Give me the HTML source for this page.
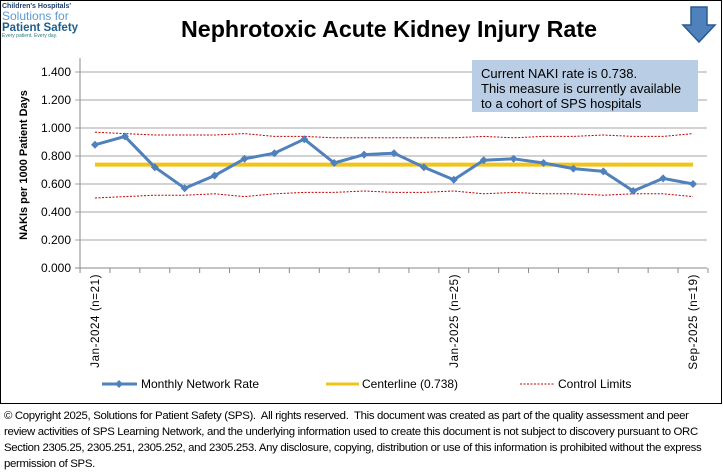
<!DOCTYPE html>
<html><head><meta charset="utf-8"><style>
body{margin:0;width:723px;height:472px;background:#fff;font-family:"Liberation Sans",sans-serif;overflow:hidden;position:relative}
.foot{position:absolute;left:4px;top:408px;width:718px;font-size:11.4px;line-height:16px;color:#000;letter-spacing:-0.33px;white-space:nowrap}
.foot span{display:block}
</style></head><body>
<svg id="chart" width="723" height="405" style="position:absolute;left:0;top:0">
<rect x="0.5" y="0.5" width="721" height="403" fill="#fff" stroke="#000"/>
<g font-family="Liberation Sans,sans-serif">
<text x="2" y="8" font-size="7" font-weight="bold" fill="#1d3f6e">Children's Hospitals'</text>
<text x="2" y="20" font-size="12" fill="#5b9bd5">Solutions for</text>
<text x="2" y="31" font-size="11.5" font-weight="bold" fill="#1d5f8a">Patient Safety</text>
<text x="2" y="37" font-size="5" fill="#2a7d7d">Every patient. Every day.</text>
</g>
<text x="389" y="37" text-anchor="middle" font-size="23" font-weight="bold" fill="#000" textLength="416" lengthAdjust="spacingAndGlyphs">Nephrotoxic Acute Kidney Injury Rate</text>
<polygon points="691,7 707,7 707,25 715,25 699,42 683,25 691,25" fill="#4f81bd" stroke="#2c5a8f" stroke-width="1.5"/>
<g id="grid"></g>
<g id="series"></g>
<rect x="472" y="60" width="226" height="52" fill="#b9cde5"/>
<g font-size="13" fill="#000">
<text x="481" y="78">Current NAKI rate is 0.738.</text>
<text x="481" y="93">This measure is currently available</text>
<text x="481" y="108">to a cohort of SPS hospitals</text>
</g>
<text transform="translate(27,165) rotate(-90)" text-anchor="middle" font-size="11" font-weight="bold">NAKIs per 1000 Patient Days</text>
<g font-size="12">
<g><line x1="102" y1="384" x2="137" y2="384" stroke="#4f81bd" stroke-width="3"/><polygon points="119,380 123,384 119,388 115,384" fill="#4f81bd"/><text x="141" y="388">Monthly Network Rate</text></g>
<g><line x1="326" y1="384" x2="359" y2="384" stroke="#f0c419" stroke-width="3"/><text x="362" y="388">Centerline (0.738)</text></g>
<g><line x1="520" y1="384" x2="554" y2="384" stroke="#c00000" stroke-width="1" stroke-dasharray="2,1.5"/><text x="558" y="388">Control Limits</text></g>
</g>
</svg>
<div class="foot"><span>© Copyright 2025, Solutions for Patient Safety (SPS).&nbsp; All rights reserved.&nbsp; This document was created as part of the quality assessment and peer</span><span>review activities of SPS Learning Network, and the underlying information used to create this document is not subject to discovery pursuant to ORC</span><span>Section 2305.25, 2305.251, 2305.252, and 2305.253. Any disclosure, copying, distribution or use of this information is prohibited without the express</span><span>permission of SPS.</span></div>
<script>
const months=["Jan-2024 (n=21)","Feb-2024","Mar-2024","Apr-2024","May-2024","Jun-2024","Jul-2024","Aug-2024","Sep-2024","Oct-2024","Nov-2024","Dec-2024","Jan-2025 (n=25)","Feb-2025","Mar-2025","Apr-2025","May-2025","Jun-2025","Jul-2025","Aug-2025","Sep-2025 (n=19)"];
const shownLabels=[0,12,20];
const rate=[0.88,0.94,0.72,0.57,0.66,0.78,0.82,0.92,0.75,0.81,0.82,0.72,0.63,0.77,0.78,0.75,0.71,0.69,0.55,0.64,0.60];
const ucl=[0.97,0.96,0.95,0.95,0.95,0.96,0.94,0.94,0.93,0.93,0.93,0.93,0.93,0.94,0.93,0.94,0.94,0.95,0.94,0.94,0.96];
const lcl=[0.50,0.51,0.52,0.52,0.53,0.51,0.53,0.54,0.54,0.55,0.54,0.54,0.55,0.53,0.54,0.53,0.53,0.52,0.53,0.53,0.51];
const centerline=0.738;
const yTicks=[0,0.2,0.4,0.6,0.8,1.0,1.2,1.4];
const NS="http://www.w3.org/2000/svg";
const L=80,R=707,T=58,B=268,yMax=1.5;
const xs=i=>95+i*(693-95)/(months.length-1);
const ys=v=>B-v/yMax*(B-T);
function mk(tag,at,parent){const e=document.createElementNS(NS,tag);for(const k in at)e.setAttribute(k,at[k]);parent.appendChild(e);return e;}
const grid=document.getElementById('grid'),ser=document.getElementById('series');
yTicks.forEach(v=>{
 const g=mk('line',{x1:L-5,x2:R,y1:ys(v),y2:ys(v),stroke:v===0?'#888':'#a6a6a6','stroke-width':1},grid);
 
 
 const t=mk('text',{x:L-9,y:ys(v)+4,'text-anchor':'end','font-size':12},grid);
 t.textContent=v.toFixed(3);
 
 
});
const ax=mk('line',{x1:L,x2:L,y1:T,y2:B,stroke:'#888'},grid);


for(let i=0;i<=months.length;i++){
 const x=xs(i)-(693-95)/(months.length-1)/2;
 const tk=mk('line',{x1:x,x2:x,y1:B,y2:B+5,stroke:'#888'},grid);
 
 
}
shownLabels.forEach(i=>{
 const t=mk('text',{transform:`translate(${xs(i)+4},${B+6}) rotate(-90)`,'text-anchor':'end','font-size':11.5,'letter-spacing':'0.6'},grid);
 t.textContent=months[i];
 
 
});
function poly(arr,at,name){const p=mk('polyline',Object.assign({points:arr.map((v,i)=>xs(i)+','+ys(v)).join(' '),fill:'none'},at),ser);
 
 }
poly(ucl,{stroke:'#c00000','stroke-width':1,'stroke-dasharray':'2,1.5'},'upper-control-limit');
poly(lcl,{stroke:'#c00000','stroke-width':1,'stroke-dasharray':'2,1.5'},'lower-control-limit');
const cl=mk('line',{x1:xs(0),x2:xs(months.length-1),y1:ys(centerline),y2:ys(centerline),stroke:'#f0c419','stroke-width':4},ser);


poly(rate,{stroke:'#4f81bd','stroke-width':3,'stroke-linejoin':'round'},'monthly-rate-line');
rate.forEach((v,i)=>{const x=xs(i),y=ys(v);
 const m=mk('polygon',{points:`${x},${y-4} ${x+4},${y} ${x},${y+4} ${x-4},${y}`,fill:'#4f81bd'},ser);
 
 
});
</script>
</body></html>
